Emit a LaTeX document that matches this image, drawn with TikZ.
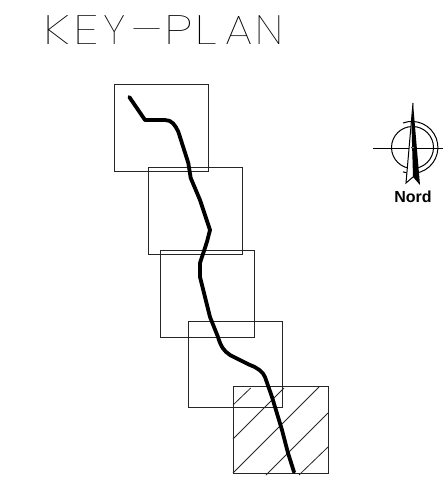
\documentclass[tikz,border=0pt]{standalone}
\usepackage{fontspec}
\newfontfamily\titlefont{Poppins Thin}
\newfontfamily\nordfont{Liberation Sans Bold}
\newcommand{\pitched}[2][1.3]{\makebox[30.3pt][l]{\scalebox{#1}[1]{#2}}}
\begin{document}
\begin{tikzpicture}[x=1pt,y=-1pt,
  sheet/.style={draw=black!85,line width=0.9pt},
  hatchline/.style={draw=black!85,line width=0.8pt},
  route/.style={draw=black,line width=3.8pt,line cap=round,line join=round},
  compass/.style={draw=black,line width=1pt}]
\useasboundingbox (0,0) rectangle (444,495);
\node[anchor=west,inner sep=0pt,font=\titlefont\fontsize{41}{41}\selectfont] (title) at (43,30) {\pitched{K}\pitched{E}\pitched[1.05]{Y}\makebox[30.3pt][l]{\hspace{2pt}\scalebox{1.75}[1]{-}}\pitched{P}\pitched[1.4]{L}\pitched[1.1]{A}\pitched[1.05]{N}};
\draw[sheet] (114,84) rectangle (208,171);
\draw[sheet] (148,167) rectangle (242,254);
\draw[sheet] (160,250) rectangle (254,337);
\draw[sheet] (188,321) rectangle (282,407);
\draw[sheet] (233,386) rectangle (328,473);
\draw[hatchline] (233,405) -- (250.7,388);
\draw[hatchline] (233,439) -- (284,388);
\draw[hatchline] (233,473) -- (319,387);
\draw[hatchline] (266,475) -- (328,413);
\draw[hatchline] (299,475) -- (328,447);
\draw[route] (129.3,97) -- (145,120) -- (165,120) .. controls (172,120) and (175,125) .. (178.3,131.7)
  -- (188.3,163) -- (190.7,178) -- (200,200) -- (210,230) -- (207,241.7) -- (200,263) -- (200,277)
  -- (210,317) -- (218,337) .. controls (221,347) and (224,351) .. (230,355)
  -- (250,365) .. controls (258,368) and (263,372) .. (265,377)
  -- (272,397) -- (282,430) -- (288,453) -- (294,472);
% north arrow
\draw[compass] (412.5,147.5) circle (21);
\draw[compass] (403,123) arc (-110:110:26);
\draw[compass] (373,148) -- (443,148);
\draw[line width=1pt,fill=white] (413,103) -- (406,183) -- (413,177);
\fill[black] (413,103) -- (420,185) -- (413,177) -- (411.5,125) -- cycle;
\draw[line width=0.7pt,fill=white] (413,147.5) circle (1.4);
\node[inner sep=0pt,font=\nordfont\fontsize{16}{16}\selectfont] (nord) at (413,197) {Nord};
\end{tikzpicture}
\end{document}
